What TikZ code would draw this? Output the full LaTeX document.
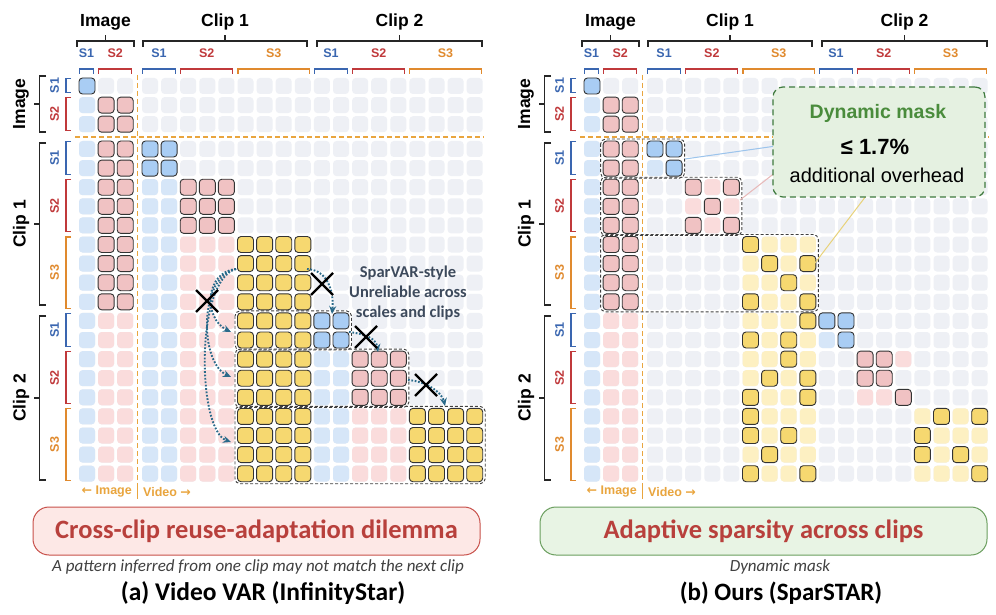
\documentclass[tikz,border=0pt]{standalone}
\usepackage{fontspec}
\setmainfont{Liberation Sans}
\newfontfamily\cfont{Carlito}
\newfontfamily\arrfont{DejaVu Sans}
\usetikzlibrary{arrows.meta}

\definecolor{cgray}{HTML}{EEF0F5}
\definecolor{clb}{HTML}{D6E6F8}
\definecolor{clp}{HTML}{FADCDC}
\definecolor{cly}{HTML}{FDF0C2}
\definecolor{chb}{HTML}{A9CDF4}
\definecolor{chp}{HTML}{F0C2C3}
\definecolor{chy}{HTML}{F6D870}
\definecolor{sone}{HTML}{3A66B0}
\definecolor{stwo}{HTML}{C0393B}
\definecolor{sthree}{HTML}{E08A2E}
\definecolor{orgdash}{HTML}{E9A53E}
\definecolor{arrteal}{HTML}{2A6A8A}
\definecolor{titlered}{HTML}{B8403C}
\definecolor{pinkfill}{HTML}{FDE8E6}
\definecolor{pinkedge}{HTML}{C8504A}
\definecolor{greenfill}{HTML}{E8F4E4}
\definecolor{greenedge}{HTML}{6A9E5E}
\definecolor{callfill}{HTML}{E5F1E1}
\definecolor{calledge}{HTML}{3F7A3F}
\definecolor{callgreen}{HTML}{4A8C3C}
\definecolor{slate}{HTML}{3D4A5C}
\definecolor{linkblue}{HTML}{9CC4EC}
\definecolor{linkpink}{HTML}{E8B8B8}
\definecolor{linkyel}{HTML}{E8D27A}

\tikzset{
  gc/.style={fill=cgray, rounded corners=3.5pt},
  lbc/.style={fill=clb, rounded corners=3.5pt},
  lpc/.style={fill=clp, rounded corners=3.5pt},
  lyc/.style={fill=cly, rounded corners=3.5pt},
  hbc/.style={fill=chb, draw=black!80, line width=0.9pt, rounded corners=3.5pt},
  hpc/.style={fill=chp, draw=black!80, line width=0.9pt, rounded corners=3.5pt},
  hyc/.style={fill=chy, draw=black!80, line width=0.9pt, rounded corners=3.5pt},
  dashbox/.style={draw=black!75, dash pattern=on 3pt off 2pt, line width=0.9pt, rounded corners=5pt},
  odash/.style={draw=orgdash, dash pattern=on 5pt off 3pt, line width=1.2pt},
  grpbr/.style={draw=black!85, line width=1.4pt},
  grplabel/.style={font=\bfseries\fontsize{17.5}{19}\selectfont, inner sep=0pt},
  sublabel/.style={font=\bfseries\fontsize{12.5}{14}\selectfont, inner sep=0pt},
  darr/.style={draw=arrteal, line width=1.9pt, dash pattern=on 1.7pt off 1.7pt, -{Stealth[length=8pt,width=7pt]}},
  xmark/.style={draw=black, line width=2.2pt},
}

\newcommand\cellat[3]{%
  \pgfmathsetmacro\cellx{87+19.1*(#1)+((#1)>2)*5.7}%
  \pgfmathsetmacro\celly{86+19.1*(#2)+((#2)>2)*5.7}%
  \path[#3] (\cellx-8,\celly-8) rectangle (\cellx+8,\celly+8);%
}
\newcommand\cellblock[5]{%
  \foreach \cc in {#1,...,#2}{\foreach \rr in {#3,...,#4}{\cellat{\cc}{\rr}{#5}}}}
\newcommand\dbox[4]{%
  \pgfmathsetmacro\ba{87+19.1*(#1)+((#1)>2)*5.7-10.5}%
  \pgfmathsetmacro\bb{87+19.1*(#2)+((#2)>2)*5.7+10.5}%
  \pgfmathsetmacro\bc{86+19.1*(#3)+((#3)>2)*5.7-10}%
  \pgfmathsetmacro\bd{86+19.1*(#4)+((#4)>2)*5.7+10}%
  \draw[dashbox] (\ba,\bc) rectangle (\bb,\bd);%
}
\newcommand\grpcol[4]{%
  \draw[grpbr] (#1,47) -- (#1,41) -- (#2,41) -- (#2,47);
  \draw[grpbr] ({(#1+#2)/2},41) -- ({(#1+#2)/2},35.5);
  \node[grplabel] (#4) at ({(#1+#2)/2},22) {#3};
}
\newcommand\grprow[4]{%
  \draw[grpbr] (46,#1) -- (39.5,#1) -- (39.5,#2) -- (46,#2);
  \draw[grpbr] (39.5,{(#1+#2)/2}) -- (34,{(#1+#2)/2});
  \node[grplabel, rotate=90] (#4) at (21,{(#1+#2)/2}) {#3};
}
\newcommand\subcol[5]{%
  \pgfmathsetmacro\ea{87+19.1*(#1)+((#1)>2)*5.7-7.5}%
  \pgfmathsetmacro\eb{87+19.1*(#2)+((#2)>2)*5.7+6.5}%
  \draw[#4, line width=1.1pt] (\ea,74) -- (\ea,69) -- (\eb,69) -- (\eb,74);
  \node[sublabel, text=#4] (#5) at ({(\ea+\eb)/2},53) {#3};
}
\newcommand\subrow[5]{%
  \pgfmathsetmacro\ea{86+19.1*(#1)+((#1)>2)*5.7-7.5}%
  \pgfmathsetmacro\eb{86+19.1*(#2)+((#2)>2)*5.7+6.5}%
  \draw[#4, line width=1.1pt] (71,\ea) -- (66,\ea) -- (66,\eb) -- (71,\eb);
  \node[sublabel, text=#4, rotate=90] (#5) at (54.5,{(\ea+\eb)/2}) {#3};
}
\newcommand\panelcommon{%
  \cellblock{0}{20}{0}{20}{gc}
  \cellat{0}{0}{hbc}
  \cellblock{0}{0}{1}{20}{lbc}
  \cellblock{1}{2}{1}{11}{hpc}
  \cellblock{1}{2}{12}{20}{lpc}
  \grpcol{77}{134}{Image}{hImg}
  \grpcol{143}{307}{Clip 1}{hC1}
  \grpcol{317}{482}{Clip 2}{hC2}
  \subcol{0}{0}{S1}{sone}{cI1}
  \subcol{1}{2}{S2}{stwo}{cI2}
  \subcol{3}{4}{S1}{sone}{cA1}
  \subcol{5}{7}{S2}{stwo}{cA2}
  \subcol{8}{11}{S3}{sthree}{cA3}
  \subcol{12}{13}{S1}{sone}{cB1}
  \subcol{14}{16}{S2}{stwo}{cB2}
  \subcol{17}{20}{S3}{sthree}{cB3}
  \grprow{76}{132}{Image}{vImg}
  \grprow{143}{305}{Clip 1}{vC1}
  \grprow{316}{480}{Clip 2}{vC2}
  \subrow{0}{0}{S1}{sone}{rI1}
  \subrow{1}{2}{S2}{stwo}{rI2}
  \subrow{3}{4}{S1}{sone}{rA1}
  \subrow{5}{7}{S2}{stwo}{rA2}
  \subrow{8}{11}{S3}{sthree}{rA3}
  \subrow{12}{13}{S1}{sone}{rB1}
  \subrow{14}{16}{S2}{stwo}{rB2}
  \subrow{17}{20}{S3}{sthree}{rB3}
  \draw[odash] (137.5,75) -- (137.5,484);
  \draw[odash] (75,137) -- (484,137);
  \draw[draw=orgdash, line width=1.4pt] (137.5,484) -- (137.5,499);
  \node[font=\bfseries\fontsize{12.5}{14}\selectfont, text=orgdash, anchor=east, inner sep=0pt] (lImg) at (132,492) {{\arrfont\bfseries ←} Image};
  \node[font=\bfseries\fontsize{12.5}{14}\selectfont, text=orgdash, anchor=west, inner sep=0pt] (lVid) at (143,492) {Video {\arrfont\bfseries →}};
}

\begin{document}
\begin{tikzpicture}[x=1pt,y=-1pt]
\useasboundingbox (0,0) rectangle (996,615);
\fill[white] (0,0) rectangle (996,615);

% ================= LEFT PANEL =================
\begin{scope}[name prefix=L-]
\panelcommon
\cellblock{3}{4}{3}{4}{hbc}
\cellblock{3}{4}{5}{20}{lbc}
\cellblock{5}{7}{5}{7}{hpc}
\cellblock{5}{7}{8}{20}{lpc}
\cellblock{8}{11}{8}{20}{hyc}
\cellblock{12}{13}{12}{13}{hbc}
\cellblock{12}{13}{14}{20}{lbc}
\cellblock{14}{16}{14}{16}{hpc}
\cellblock{14}{16}{17}{20}{lpc}
\cellblock{17}{20}{17}{20}{hyc}
\dbox{8}{13}{12}{13}
\dbox{8}{16}{14}{16}
\dbox{8}{20}{17}{20}

\coordinate (srcL) at (236,269);
\coordinate (tA) at (231,332);
\coordinate (tB) at (231,377);
\coordinate (tC) at (231,442);
\coordinate (srcR) at (307,269);
\coordinate (tD) at (332,314);
\coordinate (sE) at (349,332);
\coordinate (tE) at (378,352);
\coordinate (sF) at (408,380);
\coordinate (tF) at (445,406);
\draw[darr] (srcL) .. controls (205,272) and (203,318) .. (tA);
\draw[darr] (srcL) .. controls (199,276) and (199,362) .. (tB);
\draw[darr] (srcL) .. controls (195,280) and (197,430) .. (tC);
\draw[darr] (srcR) .. controls (328,270) and (334,292) .. (tD);
\draw[darr] (sE) .. controls (365,334) and (376,338) .. (tE);
\draw[darr] (sF) .. controls (425,381) and (442,392) .. (tF);

\foreach \xx/\yy in {207/301, 322/284, 366/337, 426/385}{
  \draw[xmark] (\xx-11,\yy-11) -- (\xx+11,\yy+11) (\xx-11,\yy+11) -- (\xx+11,\yy-11);
}

\node[font=\cfont\bfseries\fontsize{16.5}{20}\selectfont, text=slate, align=center] (spar) at (408,293) {SparVAR-style\\Unreliable across\\scales and clips};

\node[draw=pinkedge, fill=pinkfill, line width=1pt, rounded corners=16pt, minimum width=447pt, minimum height=48pt, font=\cfont\bfseries\fontsize{26.5}{28}\selectfont, text=titlered] (pill) at (256.5,531) {Cross-clip reuse-adaptation dilemma};
\node[font=\cfont\itshape\fontsize{17}{19}\selectfont, text=black!75] (sub) at (258,567) {A pattern inferred from one clip may not match the next clip};
\node[font=\cfont\bfseries\fontsize{25.5}{27}\selectfont] (cap) at (263,593) {(a) Video VAR (InfinityStar)};
\end{scope}

% ================= RIGHT PANEL =================
\begin{scope}[xshift=505pt, name prefix=R-]
\panelcommon
\cellblock{3}{4}{3}{3}{hbc}
\cellat{3}{4}{lbc}
\cellat{4}{4}{hbc}
\cellblock{5}{7}{5}{7}{lpc}
\foreach \cc/\rr in {5/5,7/5,6/6,5/7,7/7}{\cellat{\cc}{\rr}{hpc}}
\cellblock{8}{11}{8}{20}{lyc}
\foreach \cc/\rr in {8/8,9/9,11/9,10/10,8/11,11/11,11/12,8/13,10/13,10/14,9/15,11/15,8/16,11/16,8/17,8/18,10/18,9/19,8/20,11/20}{\cellat{\cc}{\rr}{hyc}}
\cellat{12}{12}{hbc}\cellat{13}{12}{hbc}\cellat{12}{13}{lbc}\cellat{13}{13}{hbc}
\foreach \cc/\rr in {16/14,14/16,15/16}{\cellat{\cc}{\rr}{lpc}}
\foreach \cc/\rr in {14/14,15/14,14/15,15/15,16/16}{\cellat{\cc}{\rr}{hpc}}
\cellblock{17}{20}{17}{20}{lyc}
\foreach \cc/\rr in {18/17,20/17,17/18,17/19,19/19,20/20}{\cellat{\cc}{\rr}{hyc}}
\dbox{1}{4}{3}{4}
\dbox{1}{7}{5}{7}
\dbox{1}{11}{8}{11}
\end{scope}

% callout links
\coordinate (mB) at (685,159);
\coordinate (cB) at (776,146);
\coordinate (mP) at (740,200);
\coordinate (cP) at (776,172);
\coordinate (mY) at (815,263);
\coordinate (cY) at (866,196);
\draw[linkblue, line width=1pt] (mB) -- (cB);
\draw[linkpink, line width=1pt] (mP) -- (cP);
\draw[linkyel, line width=1pt] (mY) -- (cY);

\node[draw=calledge, fill=callfill, line width=1.2pt, dash pattern=on 6pt off 4pt, rounded corners=10pt, minimum width=212pt, minimum height=110pt] (callout) at (879,142) {};
\node[font=\bfseries\fontsize{19.5}{21}\selectfont, text=callgreen] (cm1) at (878,113) {Dynamic mask};
\node[font=\bfseries\fontsize{22}{24}\selectfont] (cm2) at (875,147) {≤ 1.7\%};
\node[font=\fontsize{20}{22}\selectfont] (cm3) at (877,175) {additional overhead};

\node[draw=greenedge, fill=greenfill, line width=1pt, rounded corners=16pt, minimum width=447pt, minimum height=48pt, font=\cfont\bfseries\fontsize{26.5}{28}\selectfont, text=titlered] (pillR) at (763.5,531) {Adaptive sparsity across clips};
\node[font=\cfont\itshape\fontsize{17}{19}\selectfont, text=black!75] (subR) at (780,567) {Dynamic mask};
\node[font=\cfont\bfseries\fontsize{25}{27}\selectfont] (capR) at (781,593) {(b) Ours (SparSTAR)};
\end{tikzpicture}
\end{document}
